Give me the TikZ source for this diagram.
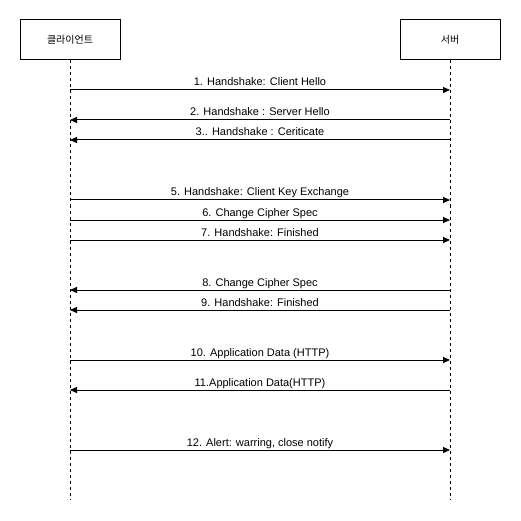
\documentclass[tikz,border=0pt]{standalone}
\usepackage{fontspec}
\setmainfont{Liberation Sans}
\newfontfamily\krfont{Noto Sans CJK KR}
\usetikzlibrary{arrows.meta,positioning,calc}

\begin{document}
\begin{tikzpicture}[
    x=1pt, y=-1pt,
    actor/.style={rectangle, draw, line width=1pt, minimum width=100pt, minimum height=40pt, inner sep=0pt, font=\krfont\fontsize{10}{12}\selectfont},
    lifeline/.style={line width=1pt, dash pattern=on 3pt off 3pt},
    msg/.style={line width=1pt, -{Triangle[length=7pt, width=6pt]}},
    lbl/.style={midway, anchor=base, yshift=4pt, inner sep=0pt, font=\fontsize{11}{13}\selectfont}
]
\useasboundingbox (0,0) rectangle (521,521);

% Participants
\node[actor] (client) at (70,40) {클라이언트};
\node[actor] (server) at (450,40) {서버};

% Lifelines
\coordinate (cEnd) at (70,500);
\coordinate (sEnd) at (450,500);
\draw[lifeline] (client) -- (cEnd);
\draw[lifeline] (server) -- (sEnd);

% Message points on the lifelines
\foreach \y [count=\i] in {90,120,140,200,220,240,290,310,360,390,450} {
    \coordinate (c\i) at (70,\y);
    \coordinate (s\i) at (450,\y);
}

% Messages
\draw[msg] (c1) -- node[lbl] {1. Handshake: Client Hello} (s1);
\draw[msg] (s2) -- node[lbl] {2. Handshake : Server Hello} (c2);
\draw[msg] (s3) -- node[lbl] {3.. Handshake : Ceriticate} (c3);
\draw[msg] (c4) -- node[lbl] {5. Handshake: Client Key Exchange} (s4);
\draw[msg] (c5) -- node[lbl] {6. Change Cipher Spec} (s5);
\draw[msg] (c6) -- node[lbl] {7. Handshake: Finished} (s6);
\draw[msg] (s7) -- node[lbl] {8. Change Cipher Spec} (c7);
\draw[msg] (s8) -- node[lbl] {9. Handshake: Finished} (c8);
\draw[msg] (c9) -- node[lbl] {10. Application Data (HTTP)} (s9);
\draw[msg] (s10) -- node[lbl] {11.Application Data(HTTP)} (c10);
\draw[msg] (c11) -- node[lbl] {12. Alert: warring, close notify} (s11);

\end{tikzpicture}
\end{document}
